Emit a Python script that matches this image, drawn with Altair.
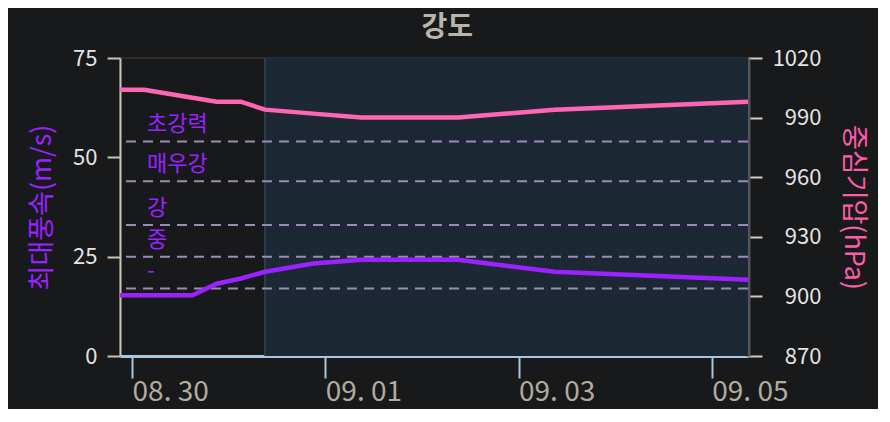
import altair as alt
import pandas as pd

# ---- data ----
times = ["2020-08-29T21:00:00", "2020-08-30T03:00:00", "2020-08-30T09:00:00",
         "2020-08-30T15:00:00", "2020-08-30T21:00:00", "2020-08-31T03:00:00",
         "2020-08-31T09:00:00", "2020-08-31T21:00:00", "2020-09-01T09:00:00",
         "2020-09-02T09:00:00", "2020-09-03T09:00:00", "2020-09-04T09:00:00",
         "2020-09-05T09:00:00"]
wind = [15.3, 15.3, 15.3, 15.3, 18.2, 19.5, 21.2, 23.3, 24.2, 24.2, 21.2, 20.2, 19.2]
pressure = [1004, 1004, 1002, 1000, 998, 998, 994, 992, 990, 990, 994, 996, 998]

grade_values = [17, 25, 33, 44, 54]
grade_labels = ["-", "중", "강", "매우강", "초강력"]

forecast_start = ["2020-08-31T09:00:00"]
forecast_end = ["2020-09-05T09:00:00"]

x_tick_dates = [(8, 30), (9, 1), (9, 3), (9, 5)]
wind_ticks = [0, 25, 50, 75]
pressure_ticks = [870, 900, 930, 960, 990, 1020]

FONT = "Noto Sans CJK KR"
PURPLE = "#9b22ff"
PINK = "#ff66b2"

df = pd.DataFrame({"time": times, "wind": wind, "pressure": pressure})
grades = pd.DataFrame({"wind": grade_values, "label": grade_labels})
band = pd.DataFrame({"start": forecast_start, "end": forecast_end})

x_axis = alt.Axis(
    values=[alt.DateTime(year=2020, month=m, date=d) for m, d in x_tick_dates],
    format="%m. %d", labelAlign="left", labelFlush=False, labelFont=FONT,
    labelFontSize=28, labelColor="#b3ab9e", labelPadding=0,
    tickSize=22, tickWidth=2, tickColor="#a9c7df",
    domainColor="#a9c7df", domainWidth=3, grid=False,
)
x_scale = alt.Scale(nice=False)


def xenc(field):
    return alt.X(field, type="temporal", scale=x_scale, axis=x_axis, title=None)


y_left = alt.Y(
    "wind:Q",
    scale=alt.Scale(domain=[0, 75], nice=False),
    title="최대풍속(m/s)",
    axis=alt.Axis(
        orient="left", values=wind_ticks, grid=False,
        tickSize=13, tickWidth=2, tickColor="#cbc3b5",
        domainColor="#cbc3b5", domainWidth=2,
        labelFont=FONT, labelFontSize=22, labelColor="#e4e4e4", labelPadding=10,
        titleFont=FONT, titleFontSize=27, titleFontWeight="normal",
        titleColor=PURPLE, titlePadding=16,
    ),
)

y_right = alt.Y(
    "pressure:Q",
    scale=alt.Scale(domain=[870, 1020], nice=False),
    title="중심기압(hPa)",
    axis=alt.Axis(
        orient="right", values=pressure_ticks, grid=False, format="d",
        tickSize=14, tickWidth=2, tickColor="#d0cbc2",
        domainColor="#555555", domainWidth=4,
        labelFont=FONT, labelFontSize=22, labelColor="#e4e4e4",
        labelAlign="right", labelPadding=59,
        titleFont=FONT, titleFontSize=27, titleFontWeight="normal",
        titleColor="#ff5ca8", titlePadding=17,
    ),
)

shade = alt.Chart(band).mark_rect(color="#1c2934").encode(
    x=xenc("start"), x2="end:T"
)
edge = alt.Chart(band).mark_rule(color="#2b4a55", strokeWidth=1.5).encode(
    x=xenc("start")
)

grade_lines = alt.Chart(grades).mark_rule(
    color="#9a8db5", strokeWidth=2, strokeDash=[10, 7]
).encode(y=y_left)

grade_text = alt.Chart(grades).mark_text(
    align="left", baseline="middle", dy=-17, fontSize=22, font=FONT, color=PURPLE
).encode(x=alt.value(27), y=y_left, text="label:N")

wind_line = alt.Chart(df).mark_line(color=PURPLE, strokeWidth=4.5).encode(
    x=xenc("time"), y=y_left
)

left_group = alt.layer(grade_lines, grade_text, wind_line)

pressure_line = alt.Chart(df).mark_line(color=PINK, strokeWidth=4.5).encode(
    x=xenc("time"), y=y_right
)

chart = alt.layer(shade, edge, left_group, pressure_line).resolve_scale(
    y="independent"
).properties(
    width=628,
    height=298,
    padding={"left": 112, "top": 50, "right": 130, "bottom": 53},
    autosize=alt.AutoSizeParams(type="none"),
    background="#18191b",
    title=alt.TitleParams(
        "강도", font=FONT, fontSize=28, fontWeight="bold", color="#bbb4aa",
        anchor="middle", frame="bounds", offset=5,
    ),
).configure_view(stroke="#2c2c2c", strokeWidth=2)

chart.save("out.html", embed_options={"renderer": "svg", "actions": False})
